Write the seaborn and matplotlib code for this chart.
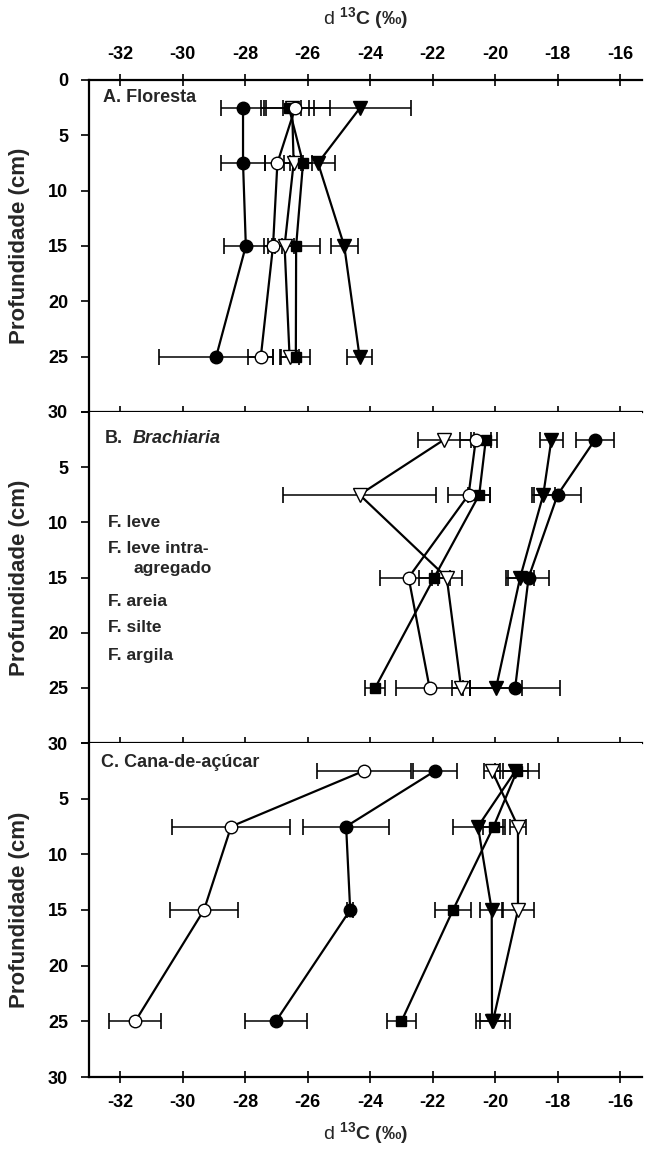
import numpy as np
import pandas as pd
import matplotlib
matplotlib.use("Agg")
import matplotlib.pyplot as plt
import seaborn as sns

sns.set_theme(style="white")
plt.rcParams["font.family"] = ["Liberation Sans", "DejaVu Sans"]
plt.rcParams["mathtext.fontset"] = "custom"
plt.rcParams["mathtext.rm"] = "Liberation Sans"
plt.rcParams["mathtext.bf"] = "Liberation Sans:bold"
plt.rcParams["mathtext.it"] = "Liberation Sans:italic"

# ---------------- data ----------------
depth = [2.5, 7.5, 15, 25]
series = ["F. leve", "F. leve intra-agregado", "F. areia", "F. silte", "F. argila"]

# Panel A - Floresta
a_leve = [-26.5, -26.45, -26.74, -26.58]
a_leve_err = [0.3, 0.3, 0.3, 0.3]
a_intra = [-24.32, -25.67, -24.83, -24.34]
a_intra_err = [1.63, 0.55, 0.43, 0.4]
a_areia = [-26.6, -26.15, -26.37, -26.38]
a_areia_err = [0.8, 0.3, 0.77, 0.46]
a_silte = [-26.4, -26.97, -27.11, -27.5]
a_silte_err = [1.1, 0.4, 0.3, 0.4]
a_argila = [-28.07, -28.07, -27.98, -28.93]
a_argila_err = [0.72, 0.7, 0.7, 1.82]

# Panel B - Brachiaria
b_leve = [-21.63, -24.34, -21.55, -21.09]
b_leve_err = [0.85, 2.45, 0.48, 0.3]
b_intra = [-18.2, -18.46, -19.2, -19.97]
b_intra_err = [0.37, 0.37, 0.45, 0.83]
b_areia = [-20.3, -20.51, -21.95, -23.84]
b_areia_err = [0.37, 0.35, 0.5, 0.32]
b_silte = [-20.62, -20.85, -22.77, -22.1]
b_silte_err = [0.5, 0.67, 0.93, 1.07]
b_argila = [-16.8, -18.0, -18.93, -19.36]
b_argila_err = [0.6, 0.75, 0.65, 1.45]

# Panel C - Cana-de-acucar
c_leve = [-20.1, -19.27, -19.27, -20.07]
c_leve_err = [0.25, 0.27, 0.5, 0.55]
c_intra = [-19.35, -20.55, -20.11, -20.1]
c_intra_err = [0.4, 0.8, 0.37, 0.4]
c_areia = [-19.3, -20.05, -21.35, -23.0]
c_areia_err = [0.7, 0.35, 0.57, 0.46]
c_silte = [-24.2, -28.45, -29.32, -31.52]
c_silte_err = [1.5, 1.88, 1.08, 0.83]
c_argila = [-21.92, -24.77, -24.64, -27.02]
c_argila_err = [0.7, 1.37, 0.1, 1.0]

x_ticks = [-32, -30, -28, -26, -24, -22, -20, -18, -16]
y_ticks = [0, 5, 10, 15, 20, 25, 30]

panels = [
    ([a_leve, a_intra, a_areia, a_silte, a_argila],
     [a_leve_err, a_intra_err, a_areia_err, a_silte_err, a_argila_err]),
    ([b_leve, b_intra, b_areia, b_silte, b_argila],
     [b_leve_err, b_intra_err, b_areia_err, b_silte_err, b_argila_err]),
    ([c_leve, c_intra, c_areia, c_silte, c_argila],
     [c_leve_err, c_intra_err, c_areia_err, c_silte_err, c_argila_err]),
]

# marker styles: (marker, facecolor, size)
styles = {
    "F. leve": ("v", "white", 9.5),
    "F. leve intra-agregado": ("v", "black", 9.5),
    "F. areia": ("s", "black", 7.5),
    "F. silte": ("o", "white", 9),
    "F. argila": ("o", "black", 9),
}

W, H = 645, 1152
fig = plt.figure(figsize=(W / 100, H / 100), dpi=100)
left_px, right_px = 89, 642
tops = [80, 412, 743]
bots = [412, 743, 1077]

axes = []
for i, (vals, errs) in enumerate(panels):
    ax = fig.add_axes([left_px / W, 1 - bots[i] / H,
                       (right_px - left_px) / W, (bots[i] - tops[i]) / H])
    axes.append(ax)
    for name, v, e in zip(series, vals, errs):
        mk, fc, ms = styles[name]
        ax.errorbar(v, depth, xerr=e, fmt="none", ecolor="black",
                    elinewidth=1.1, capsize=5.5, capthick=1.2, zorder=2)
        df = pd.DataFrame({"d13C": v, "depth": depth})
        sns.lineplot(data=df, x="d13C", y="depth", sort=False, estimator=None,
                     color="black", lw=1.6, marker=mk, markersize=ms,
                     markerfacecolor=fc, markeredgecolor="black",
                     markeredgewidth=1.0, ax=ax, zorder=3, legend=False)
    ax.set_xlim(-33, -15.3)
    ax.set_ylim(30, 0)
    ax.set_xlabel("")
    ax.set_ylabel("")
    ax.set_xticks(x_ticks)
    ax.set_xticklabels([str(t) for t in x_ticks])
    ax.set_yticks(y_ticks)
    if i == 0:
        ax.set_yticklabels([str(t) for t in y_ticks])
    else:
        ax.set_yticklabels([""] + [str(t) for t in y_ticks[1:]])
    ax.spines["right"].set_visible(False)
    for s in ["left", "top", "bottom"]:
        ax.spines[s].set_linewidth(1.6)
        ax.spines[s].set_color("black")
    if i > 0:
        ax.spines["top"].set_visible(False)
    ax.tick_params(axis="y", direction="out", length=6, width=1.2, left=True,
                   labelsize=13, pad=9, colors="black")
    ax.tick_params(axis="x", direction="inout", length=9, width=1.2,
                   labelsize=13, colors="black",
                   top=(i == 0), bottom=True, labeltop=(i == 0),
                   labelbottom=(i == 2), pad=8)
    for lab in ax.get_xticklabels() + ax.get_yticklabels():
        lab.set_fontweight("bold")
    ax.grid(False)
    ax.set_facecolor("white")

# panel titles
axes[0].text(0.026, 0.946, "A. Floresta", transform=axes[0].transAxes,
             fontsize=13, fontweight="bold", ha="left", va="center")
axes[1].text(0.029, 0.921, "B.", transform=axes[1].transAxes,
             fontsize=13, fontweight="bold", ha="left", va="center")
axes[1].text(0.079, 0.921, "Brachiaria", transform=axes[1].transAxes,
             fontsize=13, fontweight="bold", fontstyle="italic",
             ha="left", va="center")
axes[2].text(0.022, 0.943, "C. Cana-de-açúcar", transform=axes[2].transAxes,
             fontsize=13, fontweight="bold", ha="left", va="center")

# legend text (as in original, text only)
leg_items = [("F. leve", 0.034, 0.665),
             ("F. leve intra-", 0.034, 0.589),
             ("agregado", 0.081, 0.526),
             ("F. areia", 0.034, 0.429),
             ("F. silte", 0.034, 0.350),
             ("F. argila", 0.034, 0.263)]
for txt, x, y in leg_items:
    axes[1].text(x, y, txt, transform=axes[1].transAxes, fontsize=12.5,
                 fontweight="bold", ha="left", va="center")

# y labels
for i in range(3):
    yc = 1 - (tops[i] + bots[i]) / 2 / H
    fig.text(0.03, yc, "Profundidade (cm)", rotation=90, fontsize=16,
             fontweight="bold", ha="center", va="center")

# x labels (top and bottom)
xl = r"$\mathrm{d}$ $^{\mathbf{13}}$C (‰)"
xc = (left_px + right_px) / 2 / W
fig.text(xc, 1 - 18 / H, xl, fontsize=14, fontweight="bold",
         ha="center", va="center")
fig.text(xc, 1 - 1133 / H, xl, fontsize=14, fontweight="bold",
         ha="center", va="center")

fig.savefig("out.png", dpi=100, facecolor="white")
